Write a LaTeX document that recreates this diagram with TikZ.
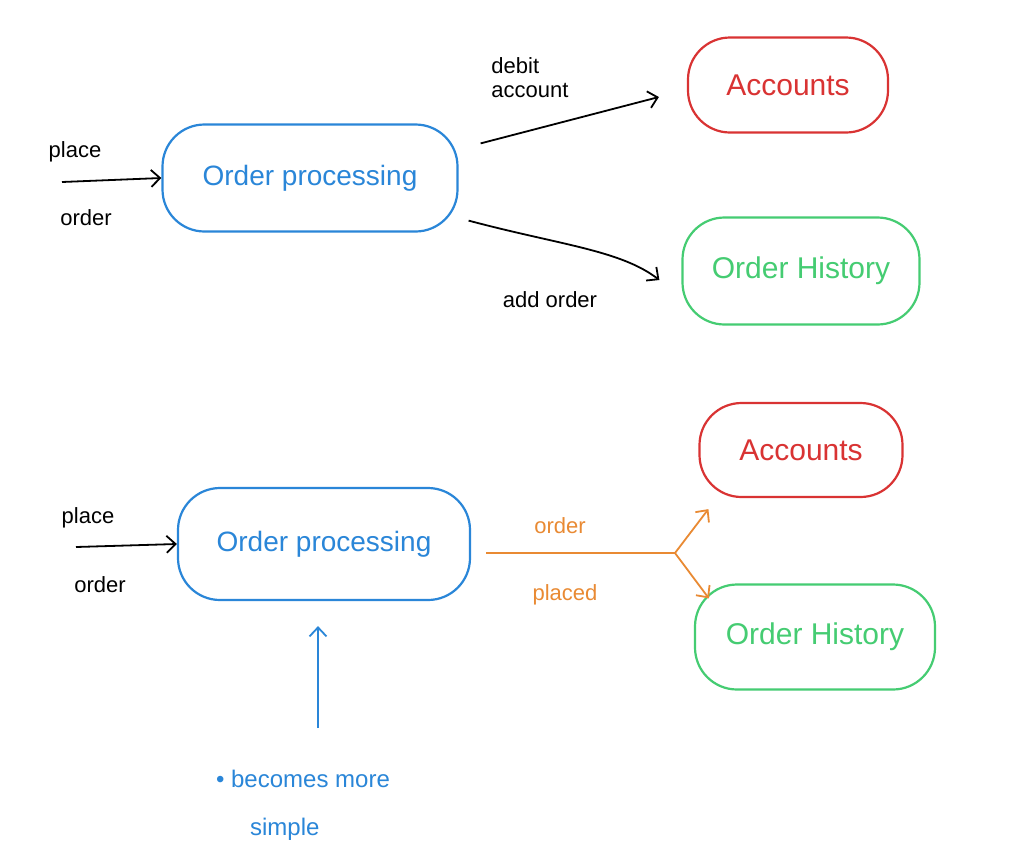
\documentclass[tikz,border=0pt]{standalone}
\usepackage{fontspec}
\setmainfont{Liberation Sans}
\usetikzlibrary{arrows.meta,calc}
\definecolor{pblue}{HTML}{2A86D8}
\definecolor{pred}{HTML}{D93333}
\definecolor{pgreen}{HTML}{45CC72}
\definecolor{porange}{HTML}{E98A33}
\begin{document}
\begin{tikzpicture}[x=1pt,y=-1pt,
  box/.style={draw,line width=2.2pt,rounded corners=42pt,inner sep=0pt},
  opbox/.style={box,pblue,text=pblue,font=\fontsize{28}{30}\selectfont},
  accbox/.style={box,pred,text=pred,font=\fontsize{30}{32}\selectfont},
  histbox/.style={box,pgreen,text=pgreen,font=\fontsize{30}{32}\selectfont},
  lbl/.style={font=\fontsize{22}{24}\selectfont,inner sep=0pt},
  arr/.style={line width=1.8pt,-{Straight Barb[length=9pt,width=17pt]}},
]
\useasboundingbox[fill=white] (0,0) rectangle (1009,865);

% ---------- top diagram ----------
\node[opbox,minimum width=295pt,minimum height=107pt] (op1) at (310,178) {Order processing};
\node[accbox,minimum width=200pt,minimum height=95pt] (acc1) at (788,85) {Accounts};
\node[histbox,minimum width=237pt,minimum height=107pt] (hist1) at (801,271) {Order History};

\node[lbl] (place1) at (75,152) {place};
\node[lbl] (order1) at (86,218) {order};
\coordinate (in1) at (62,182);
\draw[arr] (in1) -- (op1.west);

\draw[arr] ([xshift=22pt,yshift=-20pt]op1.north east) -- ([xshift=-28pt,yshift=-12pt]acc1.west);
\node[lbl,align=left] (debit) at (530,78) {debit\\account};

\draw[arr] ([xshift=10pt,yshift=12pt]op1.south east) .. controls (560,245) and (620,250) .. ([xshift=-22pt,yshift=-9pt]hist1.west);
\node[lbl] (add) at (550,300) {add order};

% ---------- bottom diagram ----------
\node[opbox,minimum width=292pt,minimum height=112pt] (op2) at (324,544) {Order processing};
\node[accbox,minimum width=203pt,minimum height=94pt] (acc2) at (801,450) {Accounts};
\node[histbox,minimum width=240pt,minimum height=105pt] (hist2) at (815,637) {Order History};

\node[lbl] (place2) at (88,518) {place};
\node[lbl] (order2) at (100,585) {order};
\coordinate (in2) at (76,547);
\draw[arr] (in2) -- (op2.west);

\coordinate (split) at (675,553);
\draw[line width=1.8pt,porange] ([xshift=15pt,yshift=-9pt]op2.east) -- (split);
\draw[arr,porange] (split) -- ([xshift=10pt,yshift=-11pt]acc2.south west);
\draw[arr,porange] (split) -- ([xshift=15pt,yshift=-15pt]hist2.north west);
\node[lbl,text=porange] (ord3) at (560,526) {order};
\node[lbl,text=porange] (placed) at (565,595) {placed};

\node[lbl,text=pblue,font=\fontsize{24}{26}\selectfont,align=left] (simple) at (303,805) {• becomes more\\[22pt]\hspace*{34pt}simple};
\coordinate (upstart) at (318,728);
\draw[arr,pblue] (upstart) -- ([yshift=-25pt]op2.south -| upstart);

\end{tikzpicture}
\end{document}
